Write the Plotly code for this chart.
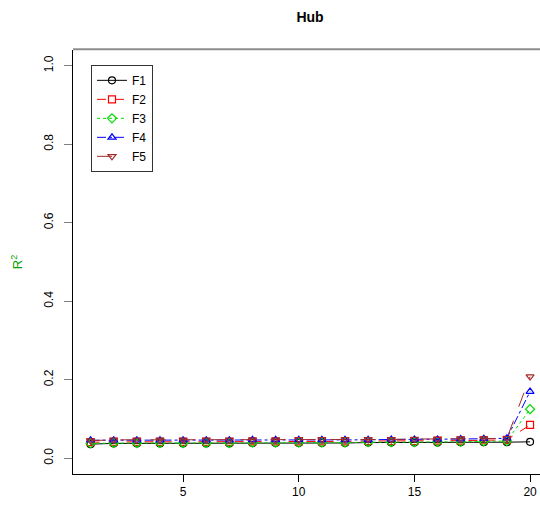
import plotly.graph_objects as go

x_vals = list(range(1, 21))
F1 = [0.036, 0.038, 0.038, 0.038, 0.038, 0.038, 0.038, 0.039, 0.039, 0.039,
      0.039, 0.039, 0.040, 0.040, 0.040, 0.040, 0.041, 0.041, 0.041, 0.042]
F2 = [0.041, 0.042, 0.042, 0.042, 0.042, 0.042, 0.042, 0.043, 0.043, 0.043,
      0.043, 0.043, 0.044, 0.044, 0.044, 0.045, 0.045, 0.046, 0.047, 0.085]
F3 = [0.038, 0.039, 0.039, 0.039, 0.039, 0.039, 0.039, 0.040, 0.040, 0.040,
      0.040, 0.040, 0.041, 0.041, 0.041, 0.042, 0.042, 0.043, 0.044, 0.125]
F4 = [0.046, 0.046, 0.046, 0.046, 0.046, 0.046, 0.046, 0.047, 0.047, 0.047,
      0.047, 0.047, 0.047, 0.048, 0.048, 0.048, 0.049, 0.050, 0.051, 0.170]
F5 = [0.045, 0.047, 0.047, 0.047, 0.047, 0.047, 0.047, 0.047, 0.047, 0.048,
      0.048, 0.048, 0.048, 0.048, 0.049, 0.049, 0.050, 0.050, 0.051, 0.208]

series_names = ["F1", "F2", "F3", "F4", "F5"]
series_vals = [F1, F2, F3, F4, F5]
colors = ["#000000", "#FF0000", "#00DD00", "#0000FF", "#A52A2A"]
symbols = ["circle-open", "square-open", "diamond-open", "triangle-up-open", "triangle-down-open"]
dashes = ["solid", "dash", "dot", "dashdot", "longdash"]

x_ticks = [5, 10, 15, 20]
y_ticks = [0.0, 0.2, 0.4, 0.6, 0.8, 1.0]
y_ticklabels = ["0.0", "0.2", "0.4", "0.6", "0.8", "1.0"]

fig = go.Figure()
for name, vals, c, s, d in zip(series_names, series_vals, colors, symbols, dashes):
    fig.add_trace(go.Scatter(
        x=x_vals, y=vals, name=name, mode="lines+markers",
        line=dict(color=c, width=1, dash=d),
        marker=dict(symbol=s, size=7, color=c, line=dict(color=c, width=1.2)),
    ))

font_family = "Liberation Sans, Arial, sans-serif"
fig.update_layout(
    width=540, height=510,
    margin=dict(l=73, r=0, t=50, b=36),
    paper_bgcolor="white", plot_bgcolor="white",
    font=dict(family=font_family, size=12, color="black"),
    title=dict(text="<b>Hub</b>", x=310/540, xref="container", xanchor="center",
               y=1 - 17/510, yref="container", yanchor="middle",
               font=dict(size=14, family=font_family)),
    showlegend=True,
    legend=dict(x=0.0385, y=0.965, xanchor="left", yanchor="top",
                bordercolor="#333333", borderwidth=1, bgcolor="white",
                font=dict(size=12), tracegroupgap=0, itemwidth=30),
    xaxis=dict(range=[0.24, 20.43], tickvals=x_ticks, ticks="outside", ticklen=7,
               tickcolor="black", showgrid=False, zeroline=False,
               showline=True, linecolor="black", linewidth=1,
               tickfont=dict(size=12)),
    yaxis=dict(range=[-0.04, 1.04], tickvals=y_ticks, ticktext=y_ticklabels,
               ticks="outside", ticklen=8, tickcolor="#808080", tickangle=-90,
               showgrid=False, zeroline=False, showline=True, linecolor="black",
               linewidth=1, tickfont=dict(size=12), ticklabelstandoff=6,
               title=dict(text="R<sup>2</sup>", font=dict(color="#00A000", size=13),
                          standoff=16)),
    shapes=[dict(type="line", xref="paper", yref="paper", x0=0, x1=1, y0=1.002, y1=1.002,
                 layer="above", line=dict(color="#8C8C8C", width=2))],
)

fig.write_html("out.html")
